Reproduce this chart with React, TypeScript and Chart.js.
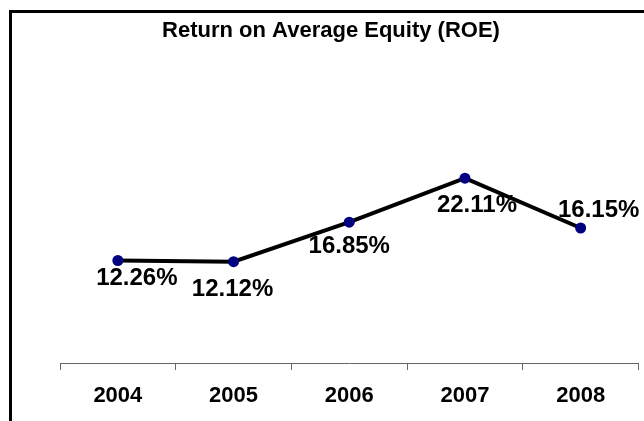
import React, { useEffect, useRef } from "react";
import { Chart, registerables } from "chart.js";

Chart.register(...registerables);

// ---- data ----
const categories = ["2004", "2005", "2006", "2007", "2008"];
const roeValues = [12.26, 12.12, 16.85, 22.11, 16.15];
const valueLabels = ["12.26%", "12.12%", "16.85%", "22.11%", "16.15%"];
const chartTitle = "Return on Average Equity (ROE)";
const yMin = 0;
const yMax = 25;

// ---- style ----
const FONT = '"Liberation Sans", Arial, Helvetica, sans-serif';
const TEXT_SIZE = 22;
const LABEL_SIZE = 24;
// label placement relative to each point (dx, dy)
const LABEL_OFFSETS: [number, number][] = [
  [19, 18],
  [-1, 28],
  [0, 24],
  [12, 27],
  [18, -18],
];

const decorPlugin = {
  id: "decor",
  beforeDraw(chart: any) {
    const ctx = chart.ctx;
    ctx.save();
    ctx.fillStyle = "#ffffff";
    ctx.fillRect(0, 0, chart.width, chart.height);
    ctx.fillStyle = "#000000";
    ctx.fillRect(9, 10, 3, chart.height);
    ctx.fillRect(9, 10, chart.width, 3);
    ctx.restore();
  },
  afterDatasetsDraw(chart: any) {
    const ctx = chart.ctx;
    const meta = chart.getDatasetMeta(0);
    ctx.save();
    ctx.fillStyle = "#000000";
    ctx.textAlign = "center";
    ctx.textBaseline = "middle";
    ctx.font = `bold ${LABEL_SIZE}px ${FONT}`;
    meta.data.forEach((pt: any, i: number) => {
      const [dx, dy] = LABEL_OFFSETS[i];
      ctx.fillText(valueLabels[i], pt.x + dx, pt.y + dy);
    });
    ctx.font = `bold ${TEXT_SIZE}px ${FONT}`;
    ctx.fillText(chartTitle, 331, 31);
    ctx.restore();
  },
};

export default function App() {
  const canvasRef = useRef<HTMLCanvasElement | null>(null);

  useEffect(() => {
    if (!canvasRef.current) return;
    const chart = new Chart(canvasRef.current, {
      type: "line",
      data: {
        labels: categories,
        datasets: [
          {
            label: "ROE",
            data: roeValues,
            borderColor: "#000000",
            borderWidth: 4,
            tension: 0,
            fill: false,
            pointRadius: 5.5,
            pointBackgroundColor: "#000080",
            pointBorderColor: "#000080",
            pointBorderWidth: 0,
            clip: false as any,
          },
        ],
      },
      options: {
        animation: false,
        responsive: false,
        layout: { padding: { left: 60, right: 4, top: 154, bottom: 8 } },
        plugins: {
          legend: { display: false },
          tooltip: { enabled: false },
          title: { display: false },
        },
        scales: {
          x: {
            type: "category",
            offset: true,
            afterFit(scale: any) {
              scale.height = 50;
            },
            grid: {
              offset: true,
              drawOnChartArea: false,
              drawTicks: true,
              tickLength: 7,
              color: "#666666",
              lineWidth: 1,
            },
            border: { display: true, color: "#666666", width: 1 },
            ticks: {
              color: "#000000",
              font: { family: FONT, size: TEXT_SIZE, weight: "bold" },
              padding: 13,
              maxRotation: 0,
              autoSkip: false,
            },
          },
          y: { display: false, min: yMin, max: yMax },
        },
      },
      plugins: [decorPlugin],
    });
    return () => chart.destroy();
  }, []);

  return (
    <div
      style={{
        position: "fixed",
        left: 0,
        top: 0,
        width: 644,
        height: 421,
        overflow: "hidden",
        background: "#fff",
      }}
    >
      <canvas ref={canvasRef} width={644} height={421} style={{ display: "block" }} />
    </div>
  );
}
